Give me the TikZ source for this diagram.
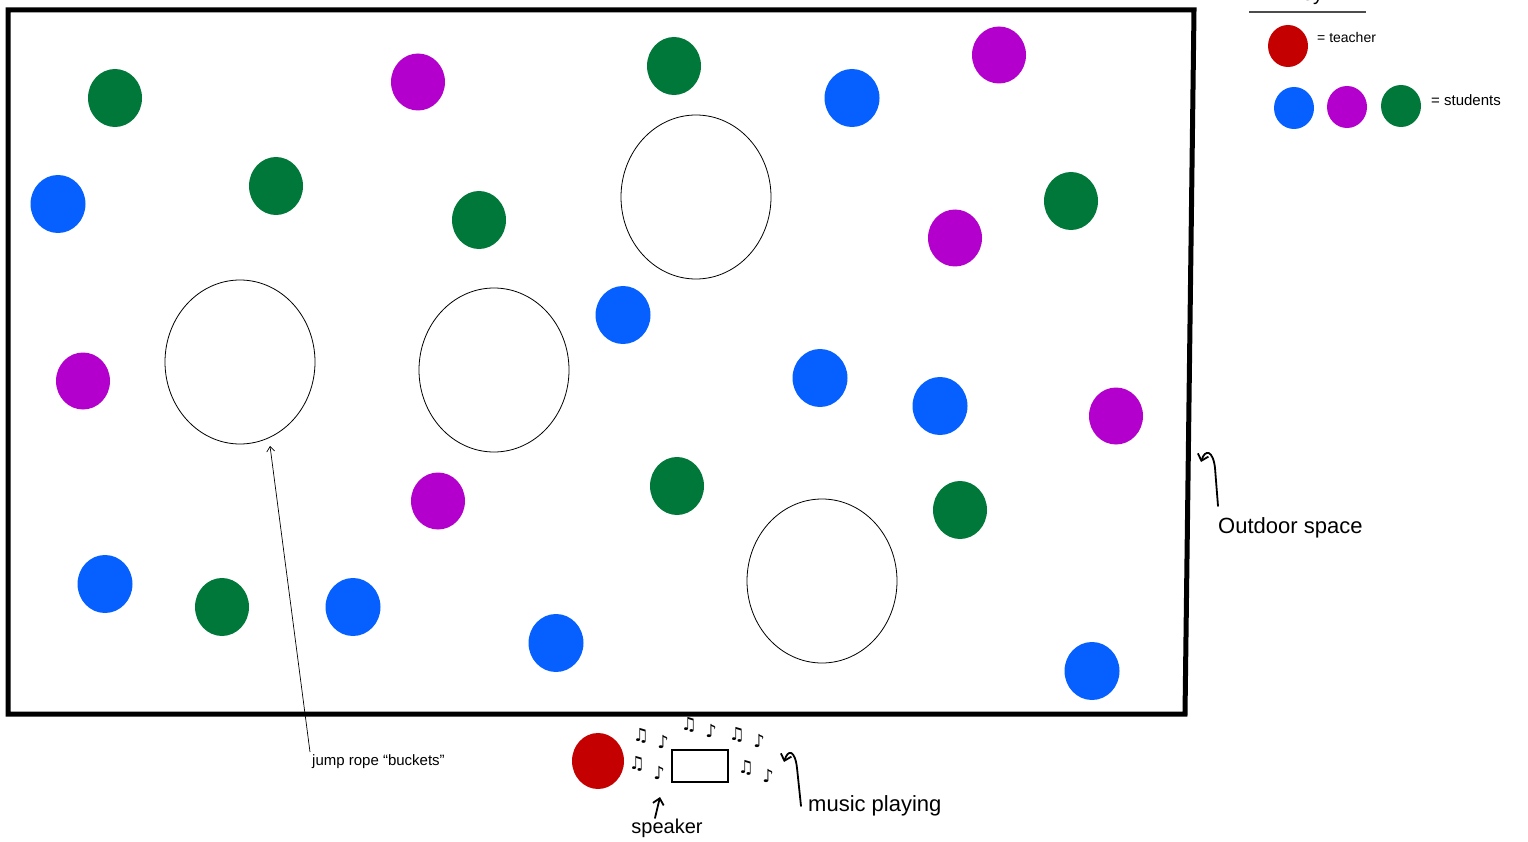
\documentclass[tikz,border=0pt]{standalone}
\usepackage{fontspec}
\setmainfont{Liberation Sans}
\newfontfamily\notefont{DejaVu Sans}
\usetikzlibrary{arrows.meta,shapes.geometric}
\definecolor{sgreen}{HTML}{00783A}
\definecolor{spurple}{HTML}{B300CC}
\definecolor{sblue}{HTML}{0560FF}
\definecolor{sred}{HTML}{C40000}
\begin{document}
\begin{tikzpicture}[x=1pt,y=-1pt,
  gdot/.style={fill=sgreen,draw=none,ellipse,minimum width=54pt,minimum height=58pt,inner sep=0pt},
  pdot/.style={fill=spurple,draw=none,ellipse,minimum width=54pt,minimum height=57pt,inner sep=0pt},
  bdot/.style={fill=sblue,draw=none,ellipse,minimum width=55pt,minimum height=58pt,inner sep=0pt},
  rdot/.style={fill=sred,draw=none,ellipse,minimum width=52pt,minimum height=56pt,inner sep=0pt},
  keydot/.style={draw=none,ellipse,minimum width=40pt,minimum height=42pt,inner sep=0pt},
  bucket/.style={draw=black,line width=0.8pt,ellipse,minimum width=150pt,minimum height=164pt,inner sep=0pt},
  lbl/.style={font=\fontsize{22}{26}\selectfont,inner sep=0pt,anchor=west},
  note/.style={font=\notefont\bfseries\fontsize{18}{18}\selectfont,inner sep=0pt},
  hand/.style={line width=1.8pt,line cap=round,-{Straight Barb[length=6pt,width=11pt]}},
  thinarrow/.style={line width=0.7pt,-{Straight Barb[length=5pt,width=8pt]}}
]
\useasboundingbox (0,0) rectangle (1528,842);
\clip (0,0) rectangle (1528,842);
\fill[white] (0,0) rectangle (1528,842);
% field
\draw[line width=5pt,line join=miter] (8,10) -- (1194,10) -- (1185,714) -- (8,714) -- cycle;
% buckets
\node[bucket] (b1) at (240,362) {};
\node[bucket] (b2) at (494,370) {};
\node[bucket] (b3) at (696,197) {};
\node[bucket] (b4) at (822,581) {};
% green students
\node[gdot] (g1) at (115,98) {};
\node[gdot] (g2) at (276,186) {};
\node[gdot] (g3) at (479,220) {};
\node[gdot] (g4) at (674,66) {};
\node[gdot] (g5) at (1071,201) {};
\node[gdot] (g6) at (677,486) {};
\node[gdot] (g7) at (960,510) {};
\node[gdot] (g8) at (222,607) {};
% purple students
\node[pdot] (p1) at (418,82) {};
\node[pdot] (p2) at (999,55) {};
\node[pdot] (p3) at (955,238) {};
\node[pdot] (p4) at (83,381) {};
\node[pdot] (p5) at (438,501) {};
\node[pdot] (p6) at (1116,416) {};
% blue students
\node[bdot] (u1) at (58,204) {};
\node[bdot] (u2) at (852,98) {};
\node[bdot] (u3) at (623,315) {};
\node[bdot] (u4) at (820,378) {};
\node[bdot] (u5) at (940,406) {};
\node[bdot] (u6) at (105,584) {};
\node[bdot] (u7) at (353,607) {};
\node[bdot] (u8) at (556,643) {};
\node[bdot] (u9) at (1092,671) {};
% teacher
\node[rdot] (teacher) at (598,761) {};
% speaker
\node[draw,line width=2.2pt,minimum width=56pt,minimum height=32pt,inner sep=0pt] (speaker) at (700,766) {};
% notes
\node[note] (n1) at (641,736) {♫};
\node[note] (n2) at (663,742) {♪};
\node[note] (n3) at (689,725) {♫};
\node[note] (n4) at (711,731) {♪};
\node[note] (n5) at (737,735) {♫};
\node[note] (n6) at (759,741) {♪};
\node[note] (n7) at (637,764) {♫};
\node[note] (n8) at (659,773) {♪};
\node[note] (n9) at (746,768) {♫};
\node[note] (n10) at (768,776) {♪};
% labels
\node[lbl,font=\fontsize{15}{18}\selectfont] (jr) at (312,762) {jump rope “buckets”};
\coordinate (jrtail) at (310,752);
\coordinate (jrhead) at (270,446);
\draw[thinarrow] (jrtail) -- (jrhead);
\node[lbl] (outdoor) at (1218,528) {Outdoor space};
\coordinate (otail) at (1218,506);
\draw[hand] (otail) -- (1215,468) .. controls (1213,450) and (1205,449) .. (1201,462);
\node[lbl,font=\fontsize{20}{24}\selectfont,anchor=center] (spk) at (667,828) {speaker};
\coordinate (stail) at (655,818);
\coordinate (shead) at (660,797);
\draw[hand] (stail) -- (shead);
\node[lbl] (music) at (808,806) {music playing};
\coordinate (mtail) at (801,806);
\draw[hand] (mtail) -- (797,768) .. controls (795,750) and (788,749) .. (784,762);
% key
\node[font=\fontsize{20}{24}\selectfont,inner sep=0pt] (key) at (1306,-4) {Key};
\draw[line width=1.5pt,draw=black!70] (1249,12) -- (1366,12);
\node[keydot,fill=sred] (kt) at (1288,46) {};
\node[lbl,font=\fontsize{14}{17}\selectfont] (kteach) at (1317,37) {= teacher};
\node[keydot,fill=sblue] (kb) at (1294,108) {};
\node[keydot,fill=spurple] (kp) at (1347,107) {};
\node[keydot,fill=sgreen] (kg) at (1401,106) {};
\node[lbl,font=\fontsize{15}{18}\selectfont] (kstud) at (1431,100) {= students};
\end{tikzpicture}
\end{document}
